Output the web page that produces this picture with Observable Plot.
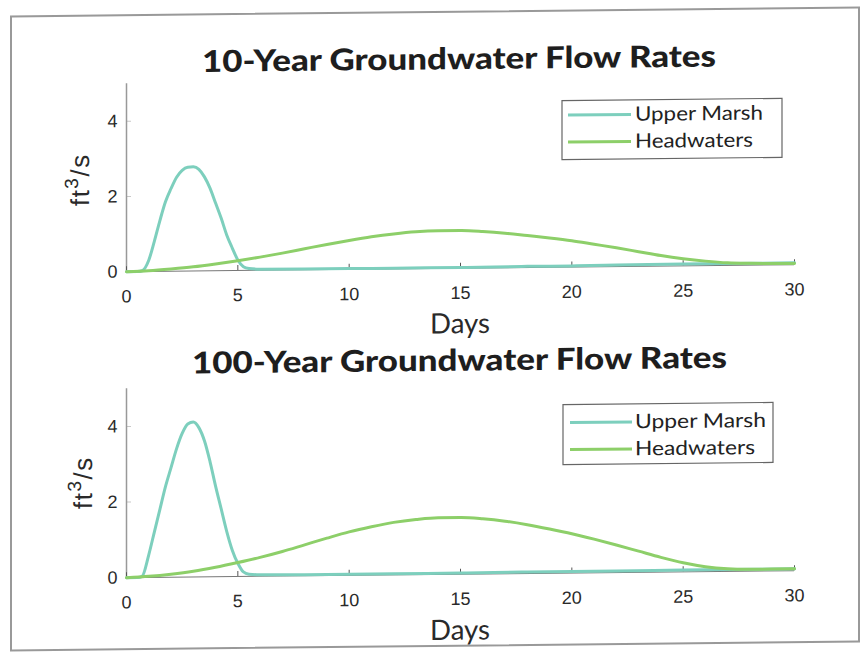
<!DOCTYPE html>
<html>
<head>
<meta charset="utf-8">
<script src="https://cdn.jsdelivr.net/npm/d3@7"></script>
<script src="https://cdn.jsdelivr.net/npm/@observablehq/plot@0.6"></script>
<style>
  html, body { margin: 0; padding: 0; background: #fff; overflow: hidden; }
  #page {
    position: relative; width: 865px; height: 656px; background: #fff;
    transform-origin: 432px 328px; transform: skewY(-0.6deg);
  }
  #frame {
    position: absolute; left: 10px; top: 11px; width: 850px; height: 636px;
    border: 2px solid #999; box-sizing: border-box;
  }
  .panel { position: absolute; left: 0; }
  #overlay { position: absolute; left: 0; top: 0; }
  .panel g[aria-label="x-axis tick label"], .panel g[aria-label="y-axis tick label"] { font-size: 18px !important; }
</style>
</head>
<body>
<div id="page">
  <div id="frame"></div>
  <div id="top" class="panel" style="top:0px"></div>
  <div id="bottom" class="panel" style="top:328px"></div>
  <svg id="overlay" width="865" height="656"></svg>
</div>
<script>
// Axis ticks
const xTicks = [0, 5, 10, 15, 20, 25, 30];
const yTicks = [0, 2, 4];

// Series names and colours
const seriesNames = ["Upper Marsh", "Headwaters"];
const seriesColors = ["#7dcfbd", "#8dcf69"];

// Upper Marsh flow (ft^3/s) vs days
const marshDays = [0, 0.5, 0.7, 1, 1.25, 1.5, 1.75, 2, 2.25, 2.5, 2.75, 3, 3.25, 3.5, 3.75, 4, 4.25, 4.5, 4.75, 5, 5.25, 5.5, 6, 8, 10, 12, 15, 18, 20, 22, 25, 27, 30];
const marsh10 = [0, 0, 0.02, 0.3, 0.8, 1.35, 1.85, 2.2, 2.5, 2.68, 2.76, 2.77, 2.7, 2.5, 2.2, 1.8, 1.4, 0.95, 0.6, 0.28, 0.1, 0.05, 0.03, 0.02, 0.02, 0.02, 0.02, 0.03, 0.03, 0.04, 0.05, 0.05, 0.05];
const marsh100 = [0, 0, 0.03, 0.6, 1.2, 1.8, 2.4, 2.9, 3.4, 3.8, 4.05, 4.1, 3.95, 3.6, 3.05, 2.4, 1.8, 1.2, 0.7, 0.35, 0.12, 0.06, 0.04, 0.03, 0.03, 0.03, 0.03, 0.04, 0.04, 0.04, 0.05, 0.05, 0.05];

// Headwaters flow (ft^3/s) vs days
const headDays = [0, 1, 2, 3, 4, 5, 6, 7, 8, 9, 10, 11, 12, 13, 14, 15, 16, 17, 18, 19, 20, 21, 22, 23, 24, 25, 26, 27, 28, 29, 30];
const head10 = [0, 0.02, 0.06, 0.11, 0.18, 0.26, 0.35, 0.45, 0.56, 0.67, 0.77, 0.86, 0.93, 0.98, 1.0, 1.0, 0.97, 0.92, 0.85, 0.78, 0.7, 0.6, 0.5, 0.39, 0.28, 0.19, 0.12, 0.07, 0.05, 0.04, 0.03];
const head100 = [0, 0.03, 0.08, 0.15, 0.25, 0.37, 0.5, 0.65, 0.82, 0.99, 1.15, 1.28, 1.39, 1.46, 1.5, 1.5, 1.46, 1.39, 1.29, 1.17, 1.04, 0.89, 0.73, 0.56, 0.39, 0.24, 0.13, 0.07, 0.05, 0.05, 0.05];

const toRows = (days, vals) => days.map((d, i) => ({day: d, q: vals[i]}));

const W = 865, ML = 126, MR = 71;
const tickFont = "'Liberation Sans', Arial, sans-serif";

function panel(marsh, head, height, marginTop, marginBottom) {
  const plotH = height - marginTop - marginBottom;
  const plotW = W - ML - MR;
  return Plot.plot({
    width: W, height,
    marginLeft: ML, marginRight: MR, marginTop, marginBottom,
    style: {fontFamily: tickFont, fontSize: "18px", color: "#2a2a2a", background: "transparent", overflow: "visible"},
    x: {domain: [0, 30]},
    y: {domain: [0, 5]},
    marks: [
      Plot.ruleY(yTicks, {insetRight: plotW - 5, stroke: "#c8c8c8"}),
      Plot.ruleX([0], {stroke: "#999", strokeWidth: 1.5}),
      Plot.ruleY([0], {stroke: "#777"}),
      Plot.ruleX(xTicks, {insetTop: plotH - 5, stroke: "#555"}),
      Plot.line(marsh, {x: "day", y: "q", stroke: seriesColors[0], strokeWidth: 3, curve: "monotone-x"}),
      Plot.line(head, {x: "day", y: "q", stroke: seriesColors[1], strokeWidth: 3, curve: "monotone-x"}),
      Plot.axisX({ticks: xTicks, tickSize: 0, tickPadding: 18, tickFormat: "d", fontSize: 18, label: null}),
      Plot.axisY({ticks: yTicks, tickSize: 0, tickPadding: 9, tickFormat: "d", fontSize: 18, label: null})
    ]
  });
}

document.getElementById("top").append(panel(toRows(marshDays, marsh10), toRows(headDays, head10), 328, 80, 60));
document.getElementById("bottom").append(panel(toRows(marshDays, marsh100), toRows(headDays, head100), 328, 57, 82));

// Titles, axis labels and legends
const svg = d3.select("#overlay");
const heading = "Lato, 'Open Sans', sans-serif";

function panelText(cfg) {
  svg.append("text").attr("x", cfg.titleX).attr("y", cfg.titleY)
    .attr("text-anchor", "middle").attr("font-family", heading).attr("font-weight", 900)
    .attr("font-size", 30).attr("fill", "#1e1e1e")
    .attr("textLength", cfg.titleLen).attr("lengthAdjust", "spacingAndGlyphs")
    .text(cfg.title);
  svg.append("text").attr("x", 460).attr("y", cfg.daysY)
    .attr("text-anchor", "middle").attr("font-family", heading)
    .attr("font-size", 28).attr("fill", "#2a2a2a")
    .attr("textLength", 60).attr("lengthAdjust", "spacingAndGlyphs")
    .text("Days");
  const yl = svg.append("text")
    .attr("transform", `translate(${cfg.ylabX},${cfg.ylabY}) rotate(-90)`)
    .attr("text-anchor", "middle").attr("font-family", tickFont)
    .attr("font-size", 26).attr("fill", "#2a2a2a").attr("letter-spacing", 1.5);
  yl.append("tspan").text("ft");
  yl.append("tspan").attr("font-size", 19).attr("dy", -11).text("3");
  yl.append("tspan").attr("dy", 11).text("/s");

  const lg = svg.append("g");
  lg.append("rect").attr("x", cfg.box[0]).attr("y", cfg.box[1])
    .attr("width", cfg.box[2]).attr("height", cfg.box[3])
    .attr("fill", "#fff").attr("stroke", "#666").attr("stroke-width", 1.2);
  seriesNames.forEach((name, i) => {
    const ly = cfg.lineY[i];
    lg.append("line").attr("x1", cfg.lineX[0]).attr("x2", cfg.lineX[1])
      .attr("y1", ly).attr("y2", ly)
      .attr("stroke", seriesColors[i]).attr("stroke-width", 3);
    lg.append("text").attr("x", cfg.textX).attr("y", ly + 6.5)
      .attr("font-family", heading).attr("font-size", 20).attr("fill", "#222")
      .attr("textLength", cfg.textLen[i]).attr("lengthAdjust", "spacingAndGlyphs")
      .text(name);
  });
}

panelText({
  title: "10-Year Groundwater Flow Rates", titleX: 459, titleY: 69.5, titleLen: 514,
  daysY: 333.5, ylabX: 89, ylabY: 176,
  box: [562, 102, 220, 59], lineX: [568, 631], lineY: [116.5, 143.5],
  textX: 635, textLen: [128, 118]
});
panelText({
  title: "100-Year Groundwater Flow Rates", titleX: 459.5, titleY: 371, titleLen: 535,
  daysY: 640, ylabX: 92, ylabY: 479,
  box: [563, 406, 210, 60], lineX: [570, 632], lineY: [424, 451],
  textX: 635, textLen: [131, 120]
});
</script>
</body>
</html>
